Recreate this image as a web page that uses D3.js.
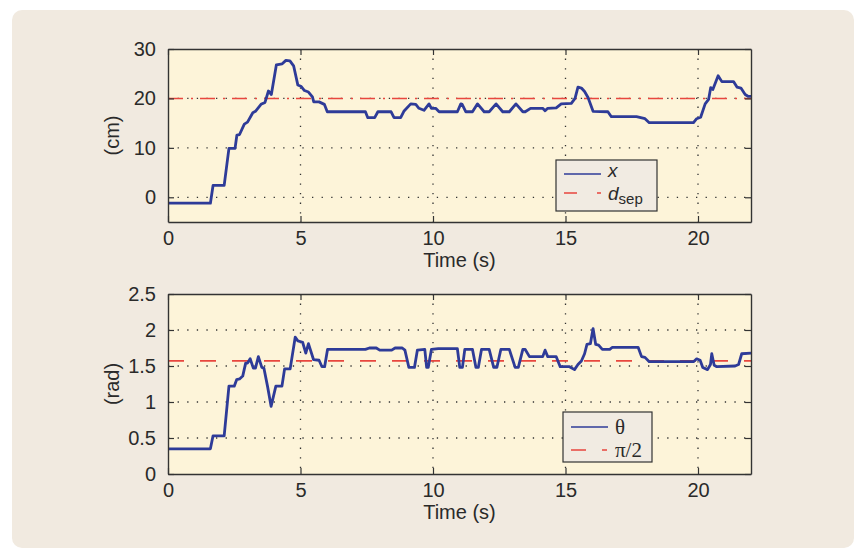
<!DOCTYPE html>
<html>
<head>
<meta charset="utf-8">
<script src="https://cdn.jsdelivr.net/npm/d3@7"></script>
<style>
  html, body { margin: 0; padding: 0; background: #ffffff; }
  svg { display: block; font-family: "Liberation Sans", Arial, sans-serif; }
</style>
</head>
<body>
<div id="chart"></div>
<script>
// time axis shared by both panels
const timeTicks = [0, 5, 10, 15, 20];

// top panel: separation x (cm) vs time
const posTime = [0, 1.6, 1.7, 2.12, 2.3, 2.53, 2.6, 2.7, 2.88, 3.0, 3.2, 3.3, 3.51, 3.66, 3.79, 3.9,
  4.09, 4.31, 4.45, 4.6, 4.74, 4.9, 5.03, 5.15, 5.3, 5.45, 5.5, 5.7, 5.9, 6.01, 7.45, 7.54, 7.8,
  7.92, 8.42, 8.53, 8.78, 8.9, 9.16, 9.35, 9.47, 9.66, 9.85, 9.94, 10.1, 10.23, 10.92, 11.05, 11.1,
  11.24, 11.49, 11.68, 11.93, 12.12, 12.38, 12.63, 12.88, 13.13, 13.39, 13.48, 13.68, 14.14, 14.23,
  14.33, 14.65, 14.84, 15.22, 15.36, 15.47, 15.6, 15.72, 15.85, 16.04, 16.6, 16.73, 17.68, 18.0,
  18.16, 19.83, 19.95, 20.1, 20.27, 20.4, 20.48, 20.56, 20.76, 20.9, 21.34, 21.47, 21.62, 21.78,
  21.9, 22.0];
const posValue = [-1.2, -1.2, 2.4, 2.4, 9.9, 9.9, 12.6, 12.7, 14.8, 15.2, 17.1, 17.4, 18.8, 19.2, 21.5, 20.8,
  26.8, 27.0, 27.7, 27.6, 26.6, 22.7, 22.4, 21.6, 21.3, 20.3, 19.3, 19.3, 18.8, 17.3, 17.3, 16.1, 16.1,
  17.3, 17.3, 16.1, 16.1, 17.4, 18.9, 18.8, 18.0, 17.6, 18.9, 18.0, 18.0, 17.3, 17.3, 18.9, 18.8,
  17.3, 17.3, 18.9, 17.3, 17.3, 18.9, 17.3, 17.3, 18.9, 17.3, 17.3, 18.0, 18.0, 17.5,
  18.0, 18.1, 18.9, 19.0, 20.0, 22.3, 22.1, 21.4, 20.2, 17.4, 17.3, 16.3, 16.3, 15.9,
  15.1, 15.1, 15.9, 16.2, 18.9, 19.8, 22.2, 21.8, 24.6, 23.4, 23.4, 22.3, 22.1, 20.8,
  20.4, 20.4];
const posTicks = [0, 10, 20, 30];
const dSep = 20;

// bottom panel: heading theta (rad) vs time
const angTime = [0, 1.6, 1.7, 2.12, 2.3, 2.5, 2.59, 2.7, 2.82, 2.93, 3.0, 3.1, 3.22, 3.3, 3.41, 3.54,
  3.62, 3.76, 3.89, 4.07, 4.3, 4.4, 4.61, 4.8, 4.9, 5.08, 5.2, 5.3, 5.49, 5.7, 5.81, 5.91, 6.02,
  7.45, 7.6, 7.86, 7.99, 8.44, 8.57, 8.84, 8.94, 9.09, 9.3, 9.41, 9.69, 9.76, 9.82, 9.94, 10.2,
  10.92, 11.01, 11.11, 11.2, 11.49, 11.62, 11.71, 11.83, 12.12, 12.29, 12.41, 12.56, 12.88, 13.1,
  13.22, 13.39, 13.48, 13.64, 14.14, 14.23, 14.33, 14.65, 14.8, 15.15, 15.34, 15.47, 15.6, 15.72,
  15.81, 15.94, 16.04, 16.14, 16.25, 16.39, 16.67, 16.77, 17.74, 17.87, 18.0, 18.16, 19.83, 19.95,
  20.08, 20.18, 20.36, 20.47, 20.52, 20.61, 20.71, 21.4, 21.53, 21.65, 22.0];
const angValue = [0.35, 0.35, 0.53, 0.53, 1.22, 1.22, 1.31, 1.32, 1.36, 1.54, 1.54, 1.6, 1.47, 1.47, 1.63, 1.48,
  1.47, 1.21, 0.94, 1.22, 1.22, 1.46, 1.46, 1.9, 1.85, 1.83, 1.68, 1.81, 1.59, 1.58, 1.49, 1.49, 1.73,
  1.73, 1.75, 1.75, 1.72, 1.72, 1.75, 1.75, 1.72, 1.48, 1.48, 1.72, 1.73, 1.48, 1.48, 1.73, 1.74,
  1.74, 1.48, 1.48, 1.73, 1.73, 1.48, 1.48, 1.73, 1.73, 1.48, 1.48, 1.73, 1.73, 1.48,
  1.48, 1.73, 1.73, 1.63, 1.63, 1.72, 1.63, 1.63, 1.49, 1.49, 1.45, 1.52, 1.57, 1.67,
  1.80, 1.81, 2.02, 1.80, 1.79, 1.73, 1.73, 1.76, 1.76, 1.63, 1.62, 1.56, 1.56, 1.60,
  1.58, 1.48, 1.45, 1.52, 1.67, 1.51, 1.49, 1.50, 1.52, 1.67, 1.68];
const angTicks = [0, 0.5, 1, 1.5, 2, 2.5];
const halfPi = Math.PI / 2;

const W = 857, H = 552;
const blue = "#2e3b98", red = "#e8463e", ink = "#2a2a2a";

const svg = d3.select("#chart").append("svg")
  .attr("width", W)
  .attr("height", H);

// beige card behind both plots
svg.append("rect")
  .attr("x", 12).attr("y", 10)
  .attr("width", 842).attr("height", 538)
  .attr("rx", 10)
  .attr("fill", "#f1eae0");

const defs = svg.append("defs");

function drawPanel(cfg) {
  const x = d3.scaleLinear().domain([0, 22]).range([168, 751]);
  const y = d3.scaleLinear().domain(cfg.yDomain).range([cfg.bottom, cfg.top]);
  const g = svg.append("g");

  g.append("rect")
    .attr("x", x.range()[0]).attr("y", cfg.top)
    .attr("width", x.range()[1] - x.range()[0])
    .attr("height", cfg.bottom - cfg.top)
    .attr("fill", "#fdf4d9");

  // dotted grid
  g.selectAll(".vgrid").data(timeTicks.filter(d => d > 0))
    .enter().append("line")
    .attr("x1", d => x(d)).attr("x2", d => x(d))
    .attr("y1", cfg.top).attr("y2", cfg.bottom)
    .attr("stroke", "#333").attr("stroke-width", 1.3)
    .attr("stroke-dasharray", "1.3,8.3");
  g.selectAll(".hgrid").data(cfg.yTicks.filter(d => d > cfg.yDomain[0] && d < cfg.yDomain[1]))
    .enter().append("line")
    .attr("x1", x.range()[0]).attr("x2", x.range()[1])
    .attr("y1", d => y(d)).attr("y2", d => y(d))
    .attr("stroke", "#333").attr("stroke-width", 1.3)
    .attr("stroke-dasharray", "1.3,8.3");

  const clipId = "clip" + cfg.top;
  defs.append("clipPath").attr("id", clipId)
    .append("rect")
    .attr("x", x.range()[0]).attr("y", cfg.top)
    .attr("width", x.range()[1] - x.range()[0])
    .attr("height", cfg.bottom - cfg.top);

  // reference line
  g.append("line")
    .attr("clip-path", "url(#" + clipId + ")")
    .attr("x1", x.range()[0]).attr("x2", x.range()[1])
    .attr("y1", y(cfg.ref)).attr("y2", y(cfg.ref))
    .attr("stroke", red).attr("stroke-width", 1.6)
    .attr("stroke-dasharray", cfg.refDash);

  const pts = cfg.t.map((t, i) => [t, cfg.v[i]]);
  g.append("path")
    .datum(pts)
    .attr("clip-path", "url(#" + clipId + ")")
    .attr("fill", "none")
    .attr("stroke", blue)
    .attr("stroke-width", 2.8)
    .attr("stroke-linejoin", "round")
    .attr("d", d3.line().x(d => x(d[0])).y(d => y(d[1])));

  // axes with inward ticks on all four sides
  const tick = 6;
  g.append("g").attr("transform", `translate(0,${cfg.bottom})`)
    .call(d3.axisBottom(x).tickValues(timeTicks).tickSize(-tick).tickPadding(9).tickSizeOuter(0));
  g.append("g").attr("transform", `translate(0,${cfg.top})`)
    .call(d3.axisTop(x).tickValues(timeTicks).tickSize(-tick).tickFormat("").tickSizeOuter(0));
  g.append("g").attr("transform", `translate(${x.range()[0]},0)`)
    .call(d3.axisLeft(y).tickValues(cfg.yTicks).tickSize(-tick).tickPadding(12).tickSizeOuter(0)
      .tickFormat(d3.format("")));
  g.append("g").attr("transform", `translate(${x.range()[1]},0)`)
    .call(d3.axisRight(y).tickValues(cfg.yTicks).tickSize(-tick).tickFormat("").tickSizeOuter(0));

  g.selectAll(".domain").attr("stroke", "#333").attr("stroke-width", 1.4);
  g.selectAll(".tick line").attr("stroke", "#333").attr("stroke-width", 1.2);
  g.selectAll(".tick text")
    .attr("fill", ink)
    .style("font-size", "20px")
    .style("font-family", "'Liberation Sans', Arial, sans-serif");

  g.append("text")
    .attr("x", (x.range()[0] + x.range()[1]) / 2)
    .attr("y", cfg.bottom + 45)
    .attr("text-anchor", "middle")
    .attr("fill", ink)
    .style("font-size", "20px")
    .text("Time (s)");

  g.append("text")
    .attr("transform", `translate(119,${(cfg.top + cfg.bottom) / 2}) rotate(-90)`)
    .attr("text-anchor", "middle")
    .attr("fill", ink)
    .style("font-size", "20px")
    .text(cfg.yLabel);

  // legend box
  const L = cfg.legend;
  const lg = g.append("g");
  lg.append("rect")
    .attr("x", L.x).attr("y", L.y)
    .attr("width", L.w).attr("height", L.h)
    .attr("fill", "#f1ebe2")
    .attr("stroke", "#333").attr("stroke-width", 1.2);
  lg.append("line")
    .attr("x1", L.x + 8).attr("x2", L.x + 45)
    .attr("y1", L.y + L.row1).attr("y2", L.y + L.row1)
    .attr("stroke", blue).attr("stroke-width", 1.6);
  lg.append("line")
    .attr("x1", L.x + 8).attr("x2", L.x + 45)
    .attr("y1", L.y + L.row2).attr("y2", L.y + L.row2)
    .attr("stroke", red).attr("stroke-width", 1.6)
    .attr("stroke-dasharray", L.dash);
  L.drawText(lg, L.x + 52, L.y + L.row1, L.y + L.row2);
}

drawPanel({
  top: 49, bottom: 222,
  yDomain: [-5, 30], yTicks: posTicks,
  t: posTime, v: posValue,
  ref: dSep, refDash: "15,8,2,7",
  yLabel: "(cm)",
  legend: {
    x: 556, y: 160, w: 101, h: 51, row1: 14, row2: 33, dash: "13,20,4",
    drawText: (lg, tx, r1, r2) => {
      lg.append("text").attr("x", tx).attr("y", r1 + 3)
        .attr("fill", ink).style("font-size", "19px").style("font-style", "italic").text("x");
      const t2 = lg.append("text").attr("x", tx).attr("y", r2 + 6.5)
        .attr("fill", ink).style("font-size", "19px");
      t2.append("tspan").style("font-style", "italic").text("d");
      t2.append("tspan").attr("dy", 4).style("font-size", "15px").text("sep");
    }
  }
});

drawPanel({
  top: 294, bottom: 474,
  yDomain: [0, 2.5], yTicks: angTicks,
  t: angTime, v: angValue,
  ref: halfPi, refDash: "16,16",
  yLabel: "(rad)",
  legend: {
    x: 563, y: 412, w: 89, h: 50, row1: 15, row2: 38, dash: "15,16,5",
    drawText: (lg, tx, r1, r2) => {
      lg.append("text").attr("x", tx).attr("y", r1 + 7)
        .attr("fill", ink).style("font-size", "21px")
        .style("font-family", "'Liberation Serif', 'DejaVu Serif', serif").text("θ");
      lg.append("text").attr("x", tx).attr("y", r2 + 7)
        .attr("fill", ink).style("font-size", "21px")
        .style("font-family", "'Liberation Serif', 'DejaVu Serif', serif").text("π/2");
    }
  }
});
</script>
</body>
</html>
